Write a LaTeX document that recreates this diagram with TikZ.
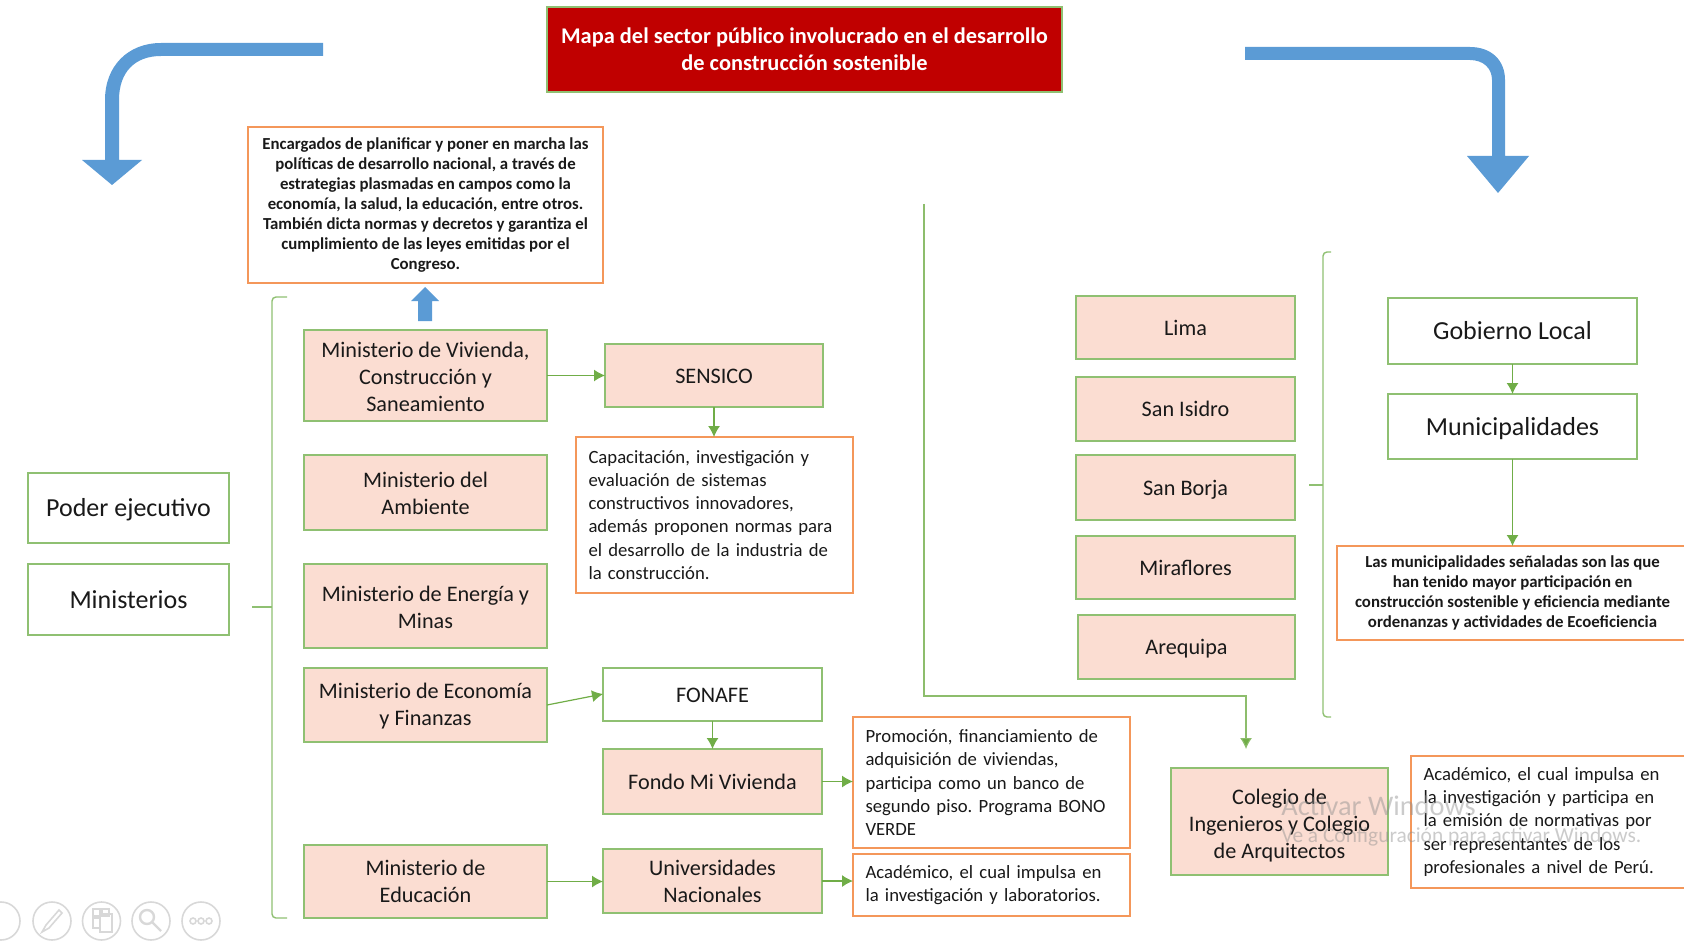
\documentclass[tikz,border=0pt]{standalone}
\usepackage{fontspec}
\setmainfont{Carlito}
\usetikzlibrary{arrows.meta}
\definecolor{gline}{HTML}{70AD47}
\definecolor{gbox}{HTML}{8FC072}
\definecolor{obox}{HTML}{F4975A}
\definecolor{pfill}{HTML}{FBDDD2}
\definecolor{bluea}{HTML}{5B9BD5}
\definecolor{redt}{HTML}{C00000}
\definecolor{icon}{HTML}{D8D8D8}
\newcommand{\openrule}{\rule{0pt}{.95em}}
\newcommand{\closerule}{\rule[-.27em]{0pt}{.27em}}
\newcommand{\fl}{\rule{0pt}{.8em}}
\newcommand{\flb}{\rule{0pt}{1.05em}}
\tikzset{
  base/.style={rectangle,inner sep=0pt,outer sep=0pt,line width=.85pt,align=center,text=black!90,
    execute at begin node=\frenchspacing},
  one/.style={execute at begin node=\openrule,execute at end node=\closerule},
  pinkbox/.style={base,draw=gbox,fill=pfill,font=\fontsize{11.1}{13.4}\selectfont},
  whitebox/.style={base,draw=gbox,fill=white,font=\fontsize{11.1}{13.4}\selectfont},
  bigbox/.style={base,one,draw=gbox,fill=white,font=\fontsize{13}{15}\selectfont},
  boldnote/.style={base,draw=obox,fill=white,font=\fontsize{8.4}{10}\selectfont\bfseries},
  sidenote/.style={base,draw=obox,fill=white,font=\fontsize{9.35}{11.6}\selectfont},
  titlebox/.style={base,draw=gbox,fill=redt,text=white,font=\fontsize{11.2}{13.4}\selectfont\bfseries},
  conn/.style={draw=gline,line width=.6pt,-{Latex[length=5.5pt,width=6pt]}},
  longconn/.style={draw=gline!80,line width=.55pt,-{Latex[length=5.5pt,width=6pt,fill=gline]}},
  brace/.style={draw=gbox,line width=.7pt,rounded corners=2pt},
  bigarrow/.style={fill=bluea,draw=none},
  ic/.style={draw=icon,line width=.8pt},
  wm/.style={text=black!45,opacity=.45,inner sep=0pt,anchor=west}
}
\newcommand{\bx}[7]{\pgfmathsetmacro\bw{(#5-#3)*.5}\pgfmathsetmacro\bh{(#6-#4)*.5}%
  \node[#1,minimum width=\bw pt,minimum height=\bh pt] (#2) at ({(#3+#5)/2},{(#4+#6)/2}) {#7};}
\newcommand{\bxl}[7]{\pgfmathsetmacro\bw{(#5-#3)*.5-12.5}\pgfmathsetmacro\bh{(#6-#4)*.5}%
  \node[#1,inner xsep=6.25pt,align=left,text width=\bw pt,minimum height=\bh pt] (#2) at ({(#3+#5)/2},{(#4+#6)/2}) {#7};}
\begin{document}
\begin{tikzpicture}[x=.5pt,y=-.5pt]
\useasboundingbox (0,0) rectangle (1684,941);
\clip (0,0) rectangle (1684,941);
% big arrows
\path[bigarrow] (323,43) -- (161,43) .. controls (128,43) and (105,66) .. (105,100) -- (105,160) -- (82,160) -- (112,185) -- (142,160) -- (119,160) -- (119,100) .. controls (119,72) and (135,56) .. (161,56) -- (323,56) -- cycle;
\path[bigarrow] (1245,47) -- (1470,47) .. controls (1491,47) and (1505,60) .. (1505,80) -- (1505,156) -- (1529,156) -- (1498,193) -- (1467,156) -- (1492,156) -- (1492,80) .. controls (1492,68) and (1483,60) .. (1470,60) -- (1245,60) -- cycle;
\path[bigarrow] (418,321) -- (418,301) -- (411,301) -- (425,287) -- (439,301) -- (432,301) -- (432,321) -- cycle;
% boxes
\bx{titlebox}{title}{547}{7}{1062}{92}{Mapa del sector público involucrado en el desarrollo\\de construcción sostenible}
\bx{boldnote}{encargados}{248}{127}{603}{283}{Encargados de planificar y poner en marcha las\\políticas de desarrollo nacional, a través de\\estrategias plasmadas en campos como la\\economía, la salud, la educación, entre otros.\\También dicta normas y decretos y garantiza el\\cumplimiento de las leyes emitidas por el\\Congreso.}
\bx{bigbox}{poder}{28}{473}{229}{543}{Poder ejecutivo}
\bx{bigbox}{ministerios}{28}{564}{229}{635}{Ministerios}
\bx{pinkbox}{vivienda}{304}{330}{547}{421}{\fl Ministerio de Vivienda,\\Construcción y\\Saneamiento}
\bx{pinkbox}{ambiente}{304}{455}{547}{530}{\fl Ministerio del\\Ambiente}
\bx{pinkbox}{energia}{304}{564}{547}{648}{\fl Ministerio de Energía y\\Minas}
\bx{pinkbox}{economia}{304}{668}{547}{742}{\fl Ministerio de Economía\\y Finanzas}
\bx{pinkbox}{educacion}{304}{845}{547}{918}{Ministerio de\\Educación}
\bx{pinkbox,one}{sensico}{605}{344}{823}{407}{SENSICO}
\bxl{sidenote}{capacita}{576}{437}{853}{593}{Capacitación, investigación y\\evaluación de sistemas\\constructivos innovadores,\\además proponen normas para\\el desarrollo de la industria de\\la construcción.}
\bx{whitebox,one}{fonafe}{603}{668}{822}{721}{FONAFE}
\bx{pinkbox,one}{fondo}{603}{749}{822}{814}{Fondo Mi Vivienda}
\bx{pinkbox}{univ}{603}{849}{822}{913}{Universidades\\Nacionales}
\bxl{sidenote}{promo}{853}{717}{1130}{848}{Promoción, financiamiento de\\adquisición de viviendas,\\participa como un banco de\\segundo piso. Programa BONO\\VERDE}
\bxl{sidenote}{acadA}{853}{854}{1130}{916}{Académico, el cual impulsa en\\la investigación y laboratorios.}
\bx{pinkbox,one}{lima}{1076}{296}{1295}{359}{Lima}
\bx{pinkbox,one}{isidro}{1076}{377}{1295}{441}{San Isidro}
\bx{pinkbox,one}{borja}{1076}{455}{1295}{520}{San Borja}
\bx{pinkbox,one}{miraflores}{1076}{536}{1295}{599}{Miraflores}
\bx{pinkbox,one}{arequipa}{1078}{615}{1295}{679}{Arequipa}
\bx{pinkbox}{colegio}{1171}{768}{1388}{875}{\flb Colegio de\\Ingenieros y Colegio\\de Arquitectos}
\bx{bigbox}{gobierno}{1388}{298}{1637}{364}{Gobierno Local}
\bx{bigbox}{muni}{1388}{394}{1637}{459}{Municipalidades}
\bx{boldnote}{munitext}{1337}{546}{1688}{640}{Las municipalidades señaladas son las que\\han tenido mayor participación en\\construcción sostenible y eficiencia mediante\\ordenanzas y actividades de Ecoeficiencia}
\bxl{sidenote}{acadB}{1411}{756}{1690}{888}{Académico, el cual impulsa en\\la investigación y participa en\\la emisión de normativas por\\ser representantes de los\\profesionales a nivel de Perú.}
% connectors
\draw[conn] (vivienda.east) -- (sensico.west);
\draw[conn] (sensico.south) -- (sensico.south |- capacita.north);
\coordinate (ecoOut) at (547,705);
\coordinate (fonIn) at (603,694);
\draw[conn] (ecoOut) -- (fonIn);
\draw[conn] (fonafe.south) -- (fondo.north);
\draw[conn] (fondo.east) -- (fondo.east -| promo.west);
\draw[conn] (educacion.east) -- (educacion.east -| univ.west);
\draw[conn] (univ.east) -- (univ.east -| acadA.west);
\draw[conn] (gobierno.south) -- (muni.north);
\draw[conn] (muni.south) -- (muni.south |- munitext.north);
\coordinate (lineStart) at (924,204);
\coordinate (lineCorner) at (924,696);
\coordinate (lineEnd) at (1246,749);
\draw[longconn] (lineStart) -- (lineCorner) -| (lineEnd);
% brackets
\coordinate (brA) at (287,297);
\coordinate (brB) at (287,918);
\coordinate (brC) at (252,607);
\draw[brace] (brA) -- (272,297) -- (272,918) -- (brB);
\draw[brace] (brC) -- (272,607);
\coordinate (brD) at (1331,252);
\coordinate (brE) at (1331,717);
\coordinate (brF) at (1309,485);
\draw[brace] (brD) -- (1323,252) -- (1323,717) -- (brE);
\draw[brace] (brF) -- (1323,485);
% watermark
\node[wm,font=\fontsize{14.2}{16}\selectfont] (wmA) at (1281,806) {Activar Windows};
\node[wm,font=\fontsize{10.7}{12}\selectfont] (wmB) at (1281,837) {Ve a Configuración para activar Windows.};
% slide-show controls
\draw[ic] (1,921) circle [radius=19];
\draw[ic] (52,921) circle [radius=19];
\draw[ic] (101.5,921) circle [radius=19];
\draw[ic] (151,921) circle [radius=19];
\draw[ic] (201,921) circle [radius=19];
\draw[ic] (42,932) -- (46,925) -- (59,910) -- (62,913) -- (49,928) -- cycle;
\draw[ic] (93,909) rectangle (100,916) (102,909) rectangle (109,916) (93,918) rectangle (100,928) (100,914) rectangle (112,932);
\draw[ic,line width=1.2pt] (147,917) circle [radius=7] (152,922) -- (161,931);
\draw[ic] (193,921) circle [radius=3] (201,921) circle [radius=3] (209,921) circle [radius=3];
\end{tikzpicture}
\end{document}
